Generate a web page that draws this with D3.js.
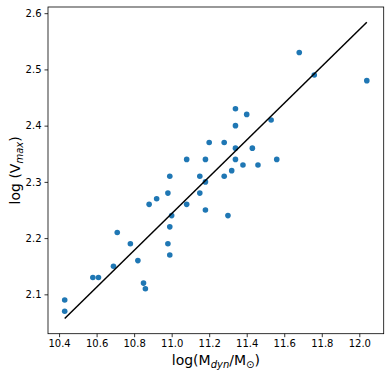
<!DOCTYPE html>
<html>
<head>
<meta charset="utf-8">
<script src="https://cdn.jsdelivr.net/npm/d3@7"></script>
<style>
  body { margin: 0; background: #fff; }
  text { font-family: "DejaVu Sans", sans-serif; fill: #000; }
</style>
</head>
<body>
<svg width="391" height="378"></svg>
<script>
// scatter data: log(Mdyn/Msun) vs log(Vmax)
const logMdyn = [10.43, 10.43, 10.58, 10.61, 10.69, 10.71, 10.78, 10.82, 10.85, 10.86,
  10.88, 10.92, 10.98, 10.98, 10.99, 10.99, 10.99, 11.00, 11.08, 11.08,
  11.15, 11.15, 11.18, 11.18, 11.18, 11.20, 11.28, 11.28, 11.30, 11.32,
  11.34, 11.34, 11.34, 11.34, 11.38, 11.40, 11.43, 11.46, 11.53, 11.56,
  11.68, 11.76, 12.04];
const logVmax = [2.09, 2.07, 2.13, 2.13, 2.15, 2.21, 2.19, 2.16, 2.12, 2.11,
  2.26, 2.27, 2.28, 2.19, 2.17, 2.22, 2.31, 2.24, 2.26, 2.34,
  2.31, 2.28, 2.25, 2.30, 2.34, 2.37, 2.37, 2.31, 2.24, 2.32,
  2.34, 2.36, 2.40, 2.43, 2.33, 2.42, 2.36, 2.33, 2.41, 2.34,
  2.53, 2.49, 2.48];
// fit line end points
const fitX = [10.43, 12.04];
const fitY = [2.057, 2.584];
const xTicks = [10.4, 10.6, 10.8, 11.0, 11.2, 11.4, 11.6, 11.8, 12.0];
const yTicks = [2.1, 2.2, 2.3, 2.4, 2.5, 2.6];

const margin = {top: 7, right: 7.3, bottom: 44.3, left: 48};
const W = 391, H = 378;
const w = W - margin.left - margin.right;
const h = H - margin.top - margin.bottom;

const svg = d3.select('svg');
const g = svg.append('g').attr('transform', `translate(${margin.left},${margin.top})`);

const x = d3.scaleLinear().domain([10.341, 12.130]).range([0, w]);
const y = d3.scaleLinear().domain([2.030, 2.611]).range([h, 0]);

const xAxis = g.append('g')
  .attr('transform', `translate(0,${h})`)
  .call(d3.axisBottom(x).tickValues(xTicks).tickFormat(d3.format('.1f')).tickSizeInner(3.5).tickSizeOuter(0).tickPadding(3));
const yAxis = g.append('g')
  .call(d3.axisLeft(y).tickValues(yTicks).tickFormat(d3.format('.1f')).tickSizeInner(3.5).tickSizeOuter(0).tickPadding(3));
[xAxis, yAxis].forEach(a => {
  a.select('.domain').remove();
  a.selectAll('line').attr('stroke', '#000').attr('stroke-width', 0.8);
  a.selectAll('text').attr('font-size', 10).attr('font-family', 'DejaVu Sans').attr('fill', '#000');
});

// frame
g.append('rect')
  .attr('x', 0).attr('y', 0).attr('width', w).attr('height', h)
  .attr('fill', 'none').attr('stroke', '#000').attr('stroke-width', 0.8);

const pts = logMdyn.map((d, i) => ({x: d, y: logVmax[i]}));
g.selectAll('circle.pt')
  .data(pts)
  .enter()
  .append('circle')
  .attr('class', 'pt')
  .attr('cx', d => x(d.x))
  .attr('cy', d => y(d.y))
  .attr('r', 2.8)
  .attr('fill', '#1f77b4');

const line = d3.line().x(d => x(d[0])).y(d => y(d[1]));
g.append('path')
  .datum(fitX.map((d, i) => [d, fitY[i]]))
  .attr('d', line)
  .attr('fill', 'none')
  .attr('stroke', '#000')
  .attr('stroke-width', 1.5);

// axis labels
const xl = svg.append('text')
  .attr('x', margin.left + w / 2)
  .attr('y', 365)
  .attr('text-anchor', 'middle')
  .attr('font-size', 14);
xl.append('tspan').text('log(M');
xl.append('tspan').attr('font-size', 10).attr('font-style', 'italic').attr('dy', 3).text('dyn');
xl.append('tspan').attr('dy', -3).text('/M');
xl.append('tspan').attr('font-size', 10).attr('dy', 3).text('⊙');
xl.append('tspan').attr('dy', -3).text(')');

const yl = svg.append('text')
  .attr('transform', `translate(20,${margin.top + h / 2}) rotate(-90)`)
  .attr('text-anchor', 'middle')
  .attr('font-size', 14);
yl.append('tspan').text('log (V');
yl.append('tspan').attr('font-size', 10).attr('font-style', 'italic').attr('dy', 3).text('max');
yl.append('tspan').attr('dy', -3).text(')');
</script>
</body>
</html>
